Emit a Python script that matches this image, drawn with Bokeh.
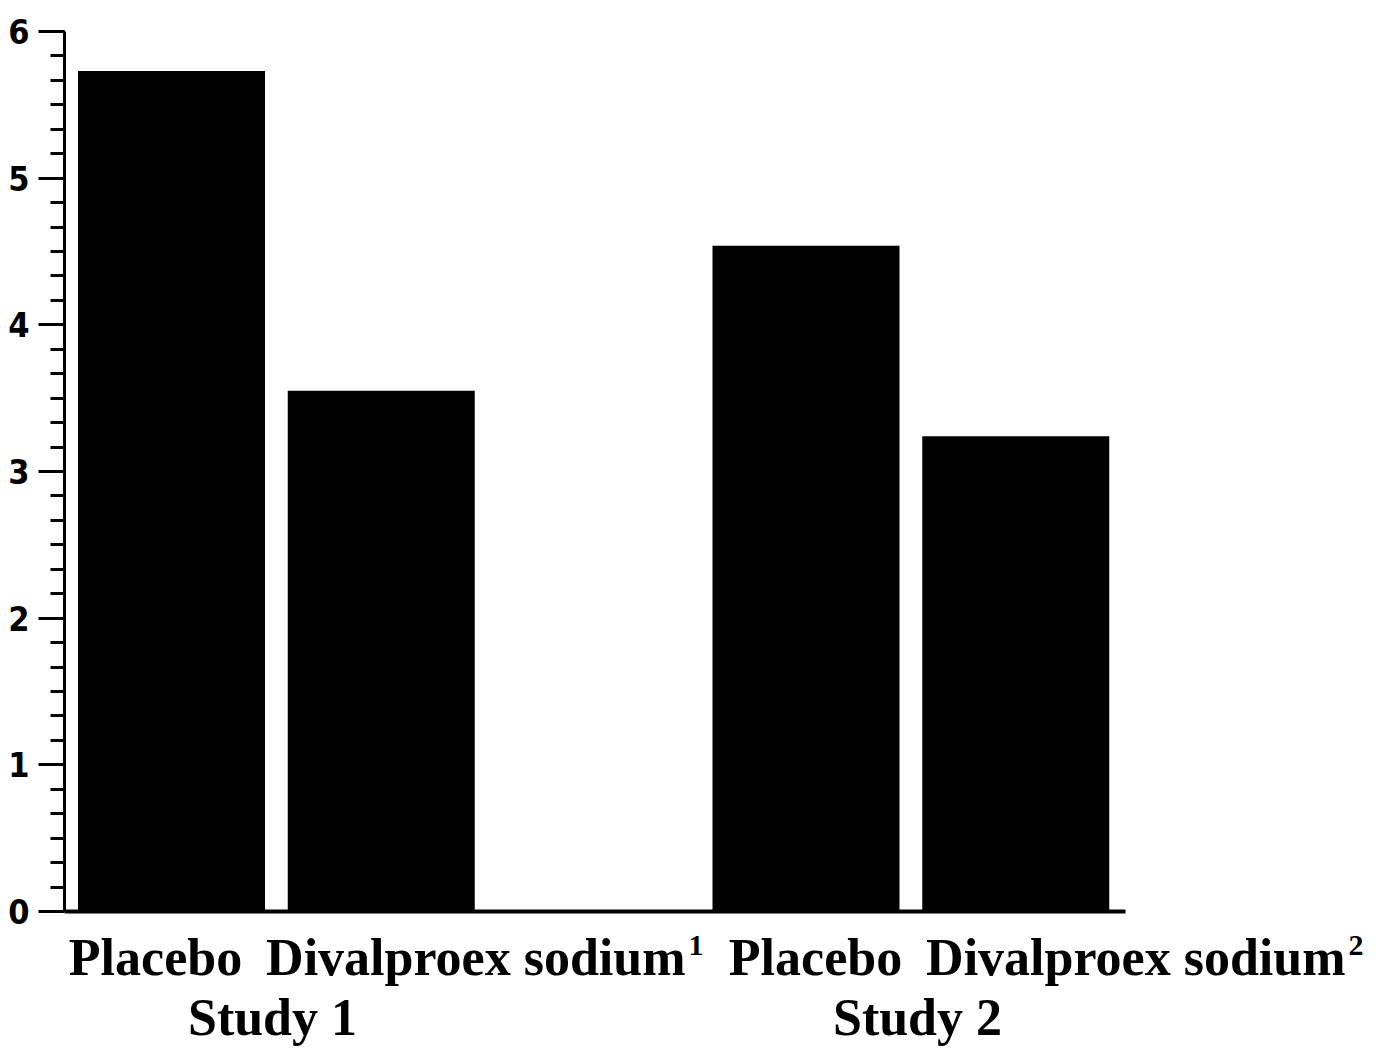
from bokeh.plotting import figure
from bokeh.models import Range1d, LinearAxis, SingleIntervalTicker, FixedTicker
from bokeh.core.properties import value
from bokeh.embed import file_html
from bokeh.resources import INLINE

# ---- data ----
studies = ["Study 1", "Study 1", "Study 2", "Study 2"]
treatments = ["Placebo", "Divalproex sodium", "Placebo", "Divalproex sodium"]
footnotes = ["", "1", "", "2"]
values = [5.73, 3.55, 4.54, 3.24]
group_labels = ["Study 1", "Study 2"]
y_min, y_max = 0, 6

# ---- layout constants (pixels) ----
LEFT, TOP = 64, 31             # frame origin on the page
ZERO_PAGE_Y = 911              # page y of value 0
BOTTOM_PAGE_Y = 1047           # page y of frame bottom
RIGHT_PAGE_X = 1376
FRAME_W = RIGHT_PAGE_X - LEFT
FRAME_H = BOTTOM_PAGE_Y - TOP
PX_PER_UNIT = (ZERO_PAGE_Y - TOP) / (y_max - y_min)
AXIS_LEN = 1061                # length of the x axis line
FIRST_CENTER, BAR_STEP, GROUP_EXTRA, BAR_W = 107, 209.75, 215.0, 187

# label anchors: page x, alignment; text anchor rows: page y
label_x = [155, 685, 815, 1345]
label_align = ["center", "right", "center", "right"]
sup_x = [None, 688, None, 1348]
group_x = [272, 917]
LABEL_ROW, SUP_ROW, GROUP_ROW = 957, 945, 1017

# bar centres from the category structure
xpos = []
seen = {}
for s in studies:
    g = group_labels.index(s)
    k = seen.get(s, 0)
    seen[s] = k + 1
    xpos.append(FIRST_CENTER + (g * 2 + k) * BAR_STEP + g * GROUP_EXTRA)

def px(page_x):
    return page_x - LEFT

def py(page_y):
    return ZERO_PAGE_Y - page_y

p = figure(x_range=Range1d(0, FRAME_W),
           y_range=Range1d(y_min - (BOTTOM_PAGE_Y - ZERO_PAGE_Y) / PX_PER_UNIT, y_max),
           frame_width=FRAME_W, frame_height=FRAME_H,
           min_border_left=LEFT, min_border_right=0,
           min_border_top=TOP, min_border_bottom=0,
           x_axis_location=None, y_axis_location=None,
           output_backend="svg", toolbar_location=None)
p.outline_line_color = None
p.background_fill_color = "white"
p.border_fill_color = "white"
for g in p.grid:
    g.visible = False
p.extra_y_ranges = {"py": Range1d(py(BOTTOM_PAGE_Y), py(TOP))}

p.vbar(x=xpos, top=values, bottom=y_min, width=BAR_W,
       fill_color="black", line_color=None)

# y axis
yaxis = LinearAxis(ticker=SingleIntervalTicker(interval=1, num_minor_ticks=6),
                   bounds=(y_min, y_max),
                   axis_line_width=3, axis_line_color="black",
                   major_tick_out=26, major_tick_in=0, major_tick_line_width=3,
                   minor_tick_out=14, minor_tick_in=0, minor_tick_line_width=3,
                   major_label_text_font="DejaVu Sans Condensed",
                   major_label_text_font_style="bold",
                   major_label_text_font_size="34px",
                   major_label_text_color="black",
                   major_label_standoff=9)
p.add_layout(yaxis, "left")

# x axis line at value 0
xaxis = LinearAxis(fixed_location=y_min, bounds=(0, AXIS_LEN),
                   ticker=FixedTicker(ticks=[]),
                   axis_line_width=4, axis_line_color="black",
                   major_tick_line_color=None, minor_tick_line_color=None,
                   major_tick_out=0, major_tick_in=0,
                   minor_tick_out=0, minor_tick_in=0)
p.add_layout(xaxis, "below")

font = value("Liberation Serif")
for t, x, a in zip(treatments, label_x, label_align):
    p.text(x=[px(x)], y=[py(LABEL_ROW)], y_range_name="py", text=[t],
           text_font=font, text_font_style="bold", text_font_size="52px",
           text_align=a, text_baseline="alphabetic", text_color="black")
for f, x in zip(footnotes, sup_x):
    if f:
        p.text(x=[px(x)], y=[py(SUP_ROW)], y_range_name="py", text=[f],
               text_font=font, text_font_style="bold", text_font_size="30px",
               text_align="left", text_baseline="alphabetic", text_color="black")
for g, x in zip(group_labels, group_x):
    p.text(x=[px(x)], y=[py(GROUP_ROW)], y_range_name="py", text=[g],
           text_font=font, text_font_style="bold", text_font_size="52px",
           text_align="center", text_baseline="alphabetic", text_color="black")

open("out.html", "w").write(file_html(p, INLINE))
